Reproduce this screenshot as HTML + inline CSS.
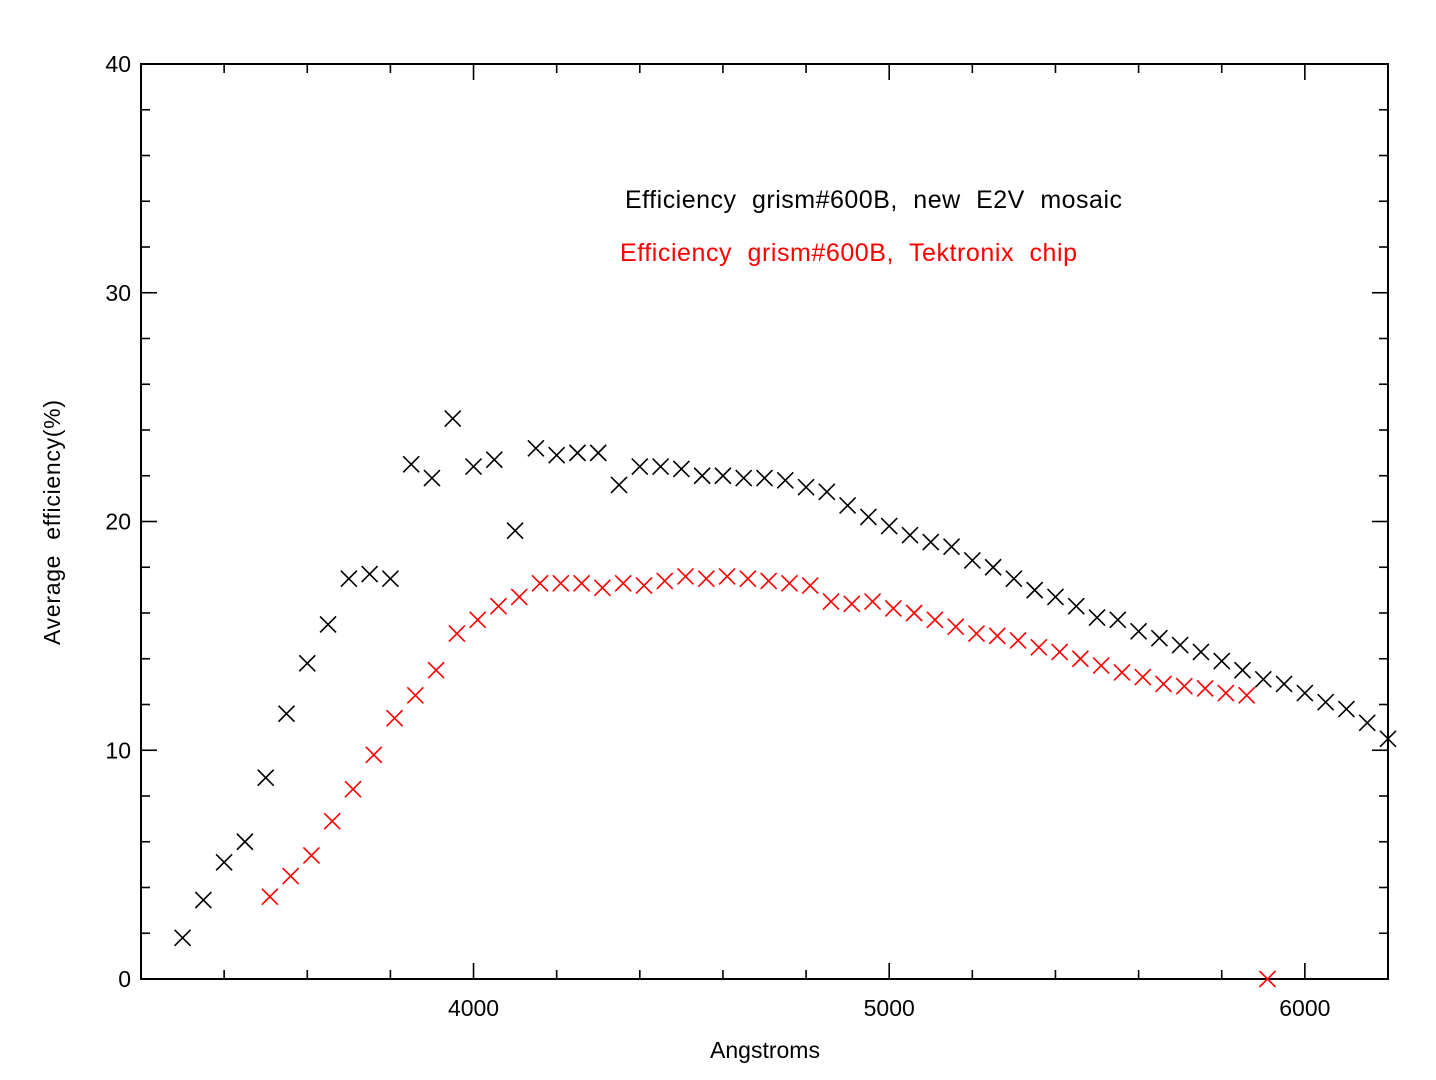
<!DOCTYPE html>
<html><head><meta charset="utf-8"><style>
html,body{margin:0;padding:0;background:#fff;}
svg{display:block;font-family:"Liberation Sans",sans-serif;}
</style></head><body>
<svg id="chart" width="1436" height="1080" viewBox="0 0 1436 1080" xmlns="http://www.w3.org/2000/svg">
<rect x="141" y="64" width="1247" height="915" fill="none" stroke="#000" stroke-width="2"/>
<g id="ticks"></g>
<g id="marks"></g>
<text x="625" y="208" textLength="497" lengthAdjust="spacing" font-size="25" fill="#000" word-spacing="8">Efficiency grism#600B, new E2V mosaic</text>
<text x="620" y="261" textLength="457" lengthAdjust="spacing" font-size="25" fill="#ff0000" word-spacing="8">Efficiency grism#600B, Tektronix chip</text>
<text x="765" y="1058" text-anchor="middle" font-size="23">Angstroms</text>
<text transform="translate(60,645) rotate(-90)" textLength="245" lengthAdjust="spacing" font-size="23" word-spacing="8">Average efficiency(%)</text>
</svg>
<script>
const xTicks=[4000,5000,6000];
const yTicks=[0,10,20,30,40];
const blackVals=[1.8,3.45,5.1,6.0,8.8,11.6,13.8,15.5,17.5,17.7,17.5,22.5,21.9,24.5,22.4,22.7,19.6,23.2,22.9,23.0,23.0,21.6,22.4,22.4,22.3,22.0,22.0,21.9,21.9,21.8,21.5,21.3,20.7,20.2,19.8,19.4,19.1,18.9,18.3,18.0,17.5,17.0,16.7,16.3,15.8,15.7,15.2,14.9,14.6,14.3,13.9,13.5,13.1,12.9,12.5,12.1,11.8,11.2,10.5];
const blackStart=3300;
const redVals=[3.6,4.5,5.4,6.9,8.3,9.8,11.4,12.4,13.5,15.1,15.7,16.3,16.7,17.3,17.3,17.3,17.1,17.3,17.2,17.4,17.6,17.5,17.6,17.5,17.4,17.3,17.2,16.5,16.4,16.5,16.2,16.0,15.7,15.4,15.1,15.0,14.8,14.5,14.3,14.0,13.7,13.4,13.2,12.9,12.8,12.7,12.5,12.4,0];
const redStart=3510;
const step=50;
const X0=141,X1=1388,Y0=979,Y1=64,XMIN=3200,XMAX=6200,YMIN=0,YMAX=40;
const sx=v=>X0+(v-XMIN)/(XMAX-XMIN)*(X1-X0);
const sy=v=>Y0-(v-YMIN)/(YMAX-YMIN)*(Y0-Y1);
const NS="http://www.w3.org/2000/svg";
const T=document.getElementById('ticks'),M=document.getElementById('marks');
function line(p,x1,y1,x2,y2,c){const l=document.createElementNS(NS,'line');l.setAttribute('x1',x1);l.setAttribute('y1',y1);l.setAttribute('x2',x2);l.setAttribute('y2',y2);l.setAttribute('stroke',c);l.setAttribute('stroke-width',1.6);p.appendChild(l);return l;}
for(let v=3400;v<=6200;v+=200){const x=sx(v);const L=(v%1000===0)?16:9;
const a=line(T,x,Y0,x,Y0-L,'#000');


const b=line(T,x,Y1,x,Y1+L,'#000');

}
for(let v=2;v<40;v+=2){const y=sy(v);const L=(v%10===0)?16:9;
const a=line(T,X0,y,X0+L,y,'#000');


const b=line(T,X1,y,X1-L,y,'#000');

}
xTicks.forEach(v=>{const t=document.createElementNS(NS,'text');t.setAttribute('x',sx(v));t.setAttribute('y',1016);t.setAttribute('text-anchor','middle');t.setAttribute('font-size','23');t.textContent=v;


T.appendChild(t);});
yTicks.forEach(v=>{const t=document.createElementNS(NS,'text');t.setAttribute('x',131);t.setAttribute('y',sy(v)+8);t.setAttribute('text-anchor','end');t.setAttribute('font-size','23');t.textContent=v;


T.appendChild(t);});
function cross(v,x,c,name){const g=document.createElementNS(NS,'g');


const cx=sx(x),cy=sy(v),s=8;line(g,cx-s,cy-s,cx+s,cy+s,c);line(g,cx-s,cy+s,cx+s,cy-s,c);M.appendChild(g);}
blackVals.forEach((v,i)=>cross(v,blackStart+i*step,'#000','e2v-point'));
redVals.forEach((v,i)=>cross(v,redStart+i*step,'#ff0000','tektronix-point'));
</script>
</body></html>
